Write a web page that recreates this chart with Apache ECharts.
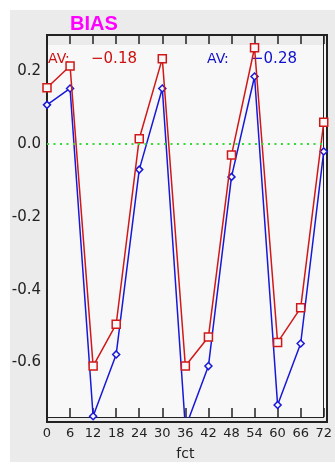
<!DOCTYPE html>
<html>
<head>
<meta charset="utf-8">
<script src="https://cdn.jsdelivr.net/npm/echarts@6/dist/echarts.min.js"></script>
<style>
html,body{margin:0;padding:0;background:#fff}
#w{position:relative;width:335px;height:466px;
  background:
    linear-gradient(#f8f8f8,#f8f8f8) 47px 45px / 279px 373px no-repeat,
    linear-gradient(#ebebeb,#ebebeb) 10px 10px / 325px 452px no-repeat,
    #fff;}
#frame{position:absolute;left:46px;top:34px;width:278px;height:385px;border:2px solid #222;}
#c{position:absolute;left:0;top:0;width:335px;height:466px;}
</style>
</head>
<body>
<div id="w"><div id="frame"></div><div id="c"></div></div>
<script>
var fct = [0, 6, 12, 18, 24, 30, 36, 42, 48, 54, 60, 66, 72];
var redBias = [0.155, 0.215, -0.61, -0.495, 0.015, 0.235, -0.61, -0.53, -0.03, 0.265, -0.545, -0.45, 0.06];
var blueBias = [0.108, 0.153, -0.748, -0.578, -0.07, 0.153, -0.78, -0.61, -0.09, 0.186, -0.717, -0.548, -0.02];
var yTicks = [-0.6, -0.4, -0.2, 0.0, 0.2];
var xTicks = [0, 6, 12, 18, 24, 30, 36, 42, 48, 54, 60, 66, 72];
var title = 'BIAS';
var redAvText = '\u22120.18';
var blueAvText = '\u22120.28';

function pairs(xs, ys) { return xs.map(function (x, i) { return [x, ys[i]]; }); }

var chart = echarts.init(document.getElementById('c'), null, {renderer: 'canvas'});
function xAxisBase(extra) {
  var a = {
    type: 'value', min: xTicks[0], max: xTicks[xTicks.length - 1], interval: 6,
    axisLine: {show: true, onZero: false, lineStyle: {color: '#222'}},
    axisTick: {show: true, inside: true, length: 9, lineStyle: {color: '#222', width: 1.5}},
    splitLine: {show: false}
  };
  for (var k in extra) a[k] = extra[k];
  return a;
}
chart.setOption({
  animation: false,
  backgroundColor: 'transparent',
  graphic: [
    {type: 'text', left: 70, top: 14, style: {text: title, fill: '#ff00ff', font: 'bold 20px "Liberation Sans"'}},
    {type: 'text', left: 48, top: 52, style: {text: 'AV:', fill: '#cc1111', font: '14px "DejaVu Sans"'}},
    {type: 'text', left: 91, top: 52, style: {text: redAvText, fill: '#cc1111', font: '15px "DejaVu Sans"'}},
    {type: 'text', left: 207, top: 52, style: {text: 'AV:', fill: '#1111cc', font: '14px "DejaVu Sans"'}},
    {type: 'text', left: 251, top: 52, style: {text: blueAvText, fill: '#1111cc', font: '15px "DejaVu Sans"'}}
  ],
  grid: {left: 47, right: 9, top: 35, bottom: 44},
  xAxis: [
    xAxisBase({
      position: 'bottom',
      name: 'fct', nameLocation: 'middle', nameGap: 30,
      nameTextStyle: {color: '#222', fontSize: 14, fontFamily: 'DejaVu Sans'},
      axisLabel: {show: true, color: '#222', fontSize: 13, fontFamily: 'DejaVu Sans', margin: 10}
    }),
    xAxisBase({position: 'top', axisLabel: {show: false}})
  ],
  yAxis: [{
    type: 'value', min: -0.75, max: 0.3, position: 'left',
    axisLine: {show: true, onZero: false, lineStyle: {color: '#222'}},
    axisTick: {show: false},
    splitLine: {show: false},
    axisLabel: {
      show: true, customValues: yTicks, color: '#222', fontSize: 15, fontFamily: 'DejaVu Sans', margin: 6,
      formatter: function (v) { return (Math.abs(v) < 1e-9 ? 0 : v).toFixed(1); }
    }
  }, {
    type: 'value', min: -0.75, max: 0.3, position: 'right',
    axisLine: {show: true, onZero: false, lineStyle: {color: '#222'}},
    axisTick: {show: false}, axisLabel: {show: false}, splitLine: {show: false}
  }],
  series: [
    {
      type: 'line', data: pairs(fct, redBias), clip: true, z: 3,
      lineStyle: {color: '#d01818', width: 1.5},
      itemStyle: {color: '#f8f8f8', borderColor: '#d01818', borderWidth: 1.5},
      symbol: 'rect', symbolSize: 8, showAllSymbol: true,
      markLine: {
        silent: true, symbol: 'none', label: {show: false},
        lineStyle: {color: '#33dd33', width: 2, type: [2, 4.5]},
        data: [{yAxis: 0}]
      }
    },
    {
      type: 'line', data: pairs(fct, blueBias), clip: true, z: 2,
      lineStyle: {color: '#1818d8', width: 1.5},
      itemStyle: {color: '#f8f8f8', borderColor: '#1818d8', borderWidth: 1.5},
      symbol: 'diamond', symbolSize: 7, showAllSymbol: true
    }
  ]
});
</script>
</body>
</html>
